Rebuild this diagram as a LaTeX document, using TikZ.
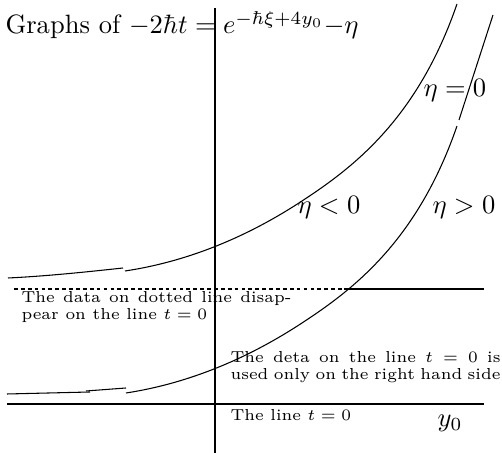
\documentclass[tikz,border=0pt]{standalone}
\usepackage{amsmath}
\tikzset{
  curve/.style={line width=0.4pt},
  axisline/.style={line width=0.45pt},
  thickline/.style={line width=0.8pt},
  dotline/.style={line width=0.8pt, dash pattern=on 1.4pt off 1.2pt},
  lbl/.style={inner sep=0pt, font=\fontsize{10}{12}\selectfont},
  note/.style={inner sep=0pt, font=\fontsize{6}{6.4}\selectfont, text width=101.8pt, align=justify},
}
\begin{document}
\begin{tikzpicture}[x=0.377pt, y=-0.377pt]
\useasboundingbox (0,0) rectangle (502,453);
% axes
\coordinate (vtop) at (215,8);
\coordinate (vbot) at (215,453);
\draw[axisline] (vtop) -- (vbot);
\coordinate (hl) at (7,404);
\coordinate (hr) at (484,404);
\draw[thickline] (hl) -- (hr);
% dotted line and solid continuation
\coordinate (dl) at (14,289);
\coordinate (dm) at (344,289);
\coordinate (dr) at (484,289);
\draw[dotline] (dl) -- (dm);
\draw[thickline] (dm) -- (dr);
% upper curve (eta<0)
\draw[curve] (8,278) .. controls (50,276) and (95,271) .. (123,268);
\draw[curve] (125,271) .. controls (183,262.3) and (242,240) .. (300,202.3)
                       .. controls (352,168.5) and (417,120) .. (457,4);
% lower curve (eta>0)
\draw[curve] (7,394) -- (90,392);
\draw[curve] (86,391) -- (126,388);
\draw[curve] (126,393) .. controls (183,384.3) and (242,362) .. (300,324.3)
                       .. controls (352,290.5) and (417,242) .. (457,126);
\draw[curve] (459,120) -- (493,15);
% labels
\node[lbl, anchor=base west] (title) at (5,34) {Graphs of $-2\hbar t = e^{-\hbar\xi+4y_0}{-}\eta$};
\node[lbl, anchor=base west] (e0) at (423,97) {$\eta = 0$};
\node[lbl, anchor=base west] (eneg) at (297,214) {$\eta < 0$};
\node[lbl, anchor=base west] (epos) at (432,214) {$\eta > 0$};
\node[lbl, anchor=base west] (y0) at (437,427) {$y_0$};
\node[note, anchor=north west] (n1) at (21,291) {The data on dotted line disap-\linebreak pear on the line $t=0$};
\node[note, anchor=north west] (n2) at (230,351) {The deta on the line $t = 0$ is\linebreak used only on the right hand side};
\node[note, anchor=north west, text width=] (n3) at (230,409) {The line $t=0$};
\end{tikzpicture}
\end{document}
